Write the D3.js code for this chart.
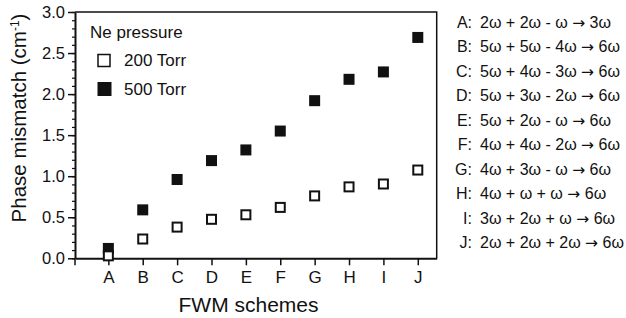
<!DOCTYPE html>
<html>
<head>
<meta charset="utf-8">
<script src="https://cdn.jsdelivr.net/npm/d3@7"></script>
<style>
  body { margin: 0; background: #fff; }
  svg { display: block; font-family: "Liberation Sans", Arial, sans-serif; }
</style>
</head>
<body>
<svg id="chart" width="626" height="318"></svg>
<script>
// FWM schemes on the x axis
const schemes = ['A','B','C','D','E','F','G','H','I','J']
// phase mismatch (cm-1)
const torr200 = [0.03, 0.235, 0.38, 0.475, 0.53, 0.62, 0.76, 0.87, 0.905, 1.075]
const torr500 = [0.12, 0.59, 0.96, 1.19, 1.32, 1.55, 1.92, 2.18, 2.27, 2.69]
const yTicks = [0, 0.5, 1.0, 1.5, 2.0, 2.5, 3.0]
// process list on the right: letter, left side of the arrow, result
const processes = [
  ['A', '2\u03c9 + 2\u03c9 - \u03c9', '3\u03c9'],
  ['B', '5\u03c9 + 5\u03c9 - 4\u03c9', '6\u03c9'],
  ['C', '5\u03c9 + 4\u03c9 - 3\u03c9', '6\u03c9'],
  ['D', '5\u03c9 + 3\u03c9 - 2\u03c9', '6\u03c9'],
  ['E', '5\u03c9 + 2\u03c9 - \u03c9', '6\u03c9'],
  ['F', '4\u03c9 + 4\u03c9 - 2\u03c9', '6\u03c9'],
  ['G', '4\u03c9 + 3\u03c9 - \u03c9', '6\u03c9'],
  ['H', '4\u03c9 + \u03c9 + \u03c9', '6\u03c9'],
  ['I', '3\u03c9 + 2\u03c9 + \u03c9', '6\u03c9'],
  ['J', '2\u03c9 + 2\u03c9 + 2\u03c9', '6\u03c9']
]

const ink = '#111'
const pLeft = 75, pRight = 436.7, pTop = 12, pBottom = 258.3

const svg = d3.select('#chart')

const x = d3.scaleLinear().domain([-0.97, 9.55]).range([pLeft, pRight])
const y = d3.scaleLinear().domain([0, 3]).range([pBottom, pTop])

// frame (top + right)
svg.append('path')
  .attr('d', `M${pLeft},${pTop}H${pRight}V${pBottom}`)
  .attr('fill', 'none').attr('stroke', ink).attr('stroke-width', 1.5)

// y minor ticks
svg.append('g')
  .attr('transform', `translate(${pLeft},0)`)
  .call(d3.axisLeft(y).tickValues(d3.range(0, 31).map(i => i / 10)).tickSize(3).tickFormat(''))
  .call(g => g.select('.domain').remove())
  .call(g => g.selectAll('line').attr('stroke', ink).attr('stroke-width', 1.2))

// y major axis
svg.append('g')
  .attr('transform', `translate(${pLeft},0)`)
  .call(d3.axisLeft(y).tickValues(yTicks).tickSize(7).tickSizeOuter(0).tickPadding(3).tickFormat(d3.format('.1f')))
  .call(g => g.select('.domain').attr('stroke', ink).attr('stroke-width', 2))
  .call(g => g.selectAll('line').attr('stroke', ink).attr('stroke-width', 1.5))
  .call(g => g.selectAll('text').attr('fill', ink).style('font-size', '16.5px').style('font-family', '"Liberation Sans", Arial, sans-serif'))

// x axis
svg.append('g')
  .attr('transform', `translate(0,${pBottom})`)
  .call(d3.axisBottom(x).tickValues(d3.range(schemes.length)).tickSize(7).tickSizeOuter(0).tickPadding(6).tickFormat(i => schemes[i]))
  .call(g => g.select('.domain').attr('stroke', ink).attr('stroke-width', 2))
  .call(g => g.selectAll('line').attr('stroke', ink).attr('stroke-width', 1.5))
  .call(g => g.selectAll('text').attr('fill', ink).style('font-size', '17px').style('font-family', '"Liberation Sans", Arial, sans-serif'))

// corner tick below the origin
svg.append('line')
  .attr('x1', pLeft).attr('x2', pLeft).attr('y1', pBottom).attr('y2', pBottom + 7)
  .attr('stroke', ink).attr('stroke-width', 1.5)

// axis titles
svg.append('text')
  .attr('x', 248.5).attr('y', 311.5)
  .attr('text-anchor', 'middle').attr('fill', ink)
  .style('font-size', '21px')
  .text('FWM schemes')

const yt = svg.append('text')
  .attr('transform', 'translate(26,118) rotate(-90)')
  .attr('text-anchor', 'middle').attr('fill', ink)
  .style('font-size', '20.5px')
yt.append('tspan').text('Phase mismatch (cm')
yt.append('tspan').attr('dy', -7).style('font-size', '12px').text('-1')
yt.append('tspan').attr('dy', 7).text(')')

// data markers
const idx = d3.range(schemes.length)
svg.append('g').selectAll('rect')
  .data(idx)
  .join('rect')
    .attr('x', i => x(i) - 5.5).attr('y', i => y(torr500[i]) - 5.5)
    .attr('width', 11).attr('height', 11)
    .attr('fill', ink)

svg.append('g').selectAll('rect')
  .data(idx)
  .join('rect')
    .attr('x', i => x(i) - 4.5).attr('y', i => y(torr200[i]) - 4.5)
    .attr('width', 9).attr('height', 9)
    .attr('fill', '#fff').attr('stroke', ink).attr('stroke-width', 2)

// legend
const lg = svg.append('g').attr('fill', ink).style('font-size', '17px')
lg.append('text').attr('x', 90).attr('y', 38).text('Ne pressure')
lg.append('rect').attr('x', 98).attr('y', 54.5).attr('width', 12).attr('height', 12)
  .attr('fill', '#fff').attr('stroke', ink).attr('stroke-width', 1.5)
lg.append('text').attr('x', 124).attr('y', 66).text('200 Torr')
lg.append('rect').attr('x', 97.5).attr('y', 82).attr('width', 14).attr('height', 14)
  .attr('fill', ink)
lg.append('text').attr('x', 124).attr('y', 94.5).text('500 Torr')

// process list
const rows = svg.append('g').attr('fill', ink).style('font-size', '16px')
  .selectAll('g')
  .data(processes)
  .join('g')
    .attr('transform', (d, i) => `translate(0,${22 + i * 24.5})`)
rows.append('text')
  .attr('x', 472).attr('dy', '0.35em').attr('text-anchor', 'end')
  .text(d => d[0] + ':')
const eq = rows.append('text')
  .attr('x', 480).attr('dy', '0.35em')
eq.append('tspan').text(d => d[1] + ' ')
eq.append('tspan').style('font-family', '"DejaVu Sans", sans-serif').style('font-size', '15.5px').text('\u2192')
eq.append('tspan').text(d => ' ' + d[2])
</script>
</body>
</html>
